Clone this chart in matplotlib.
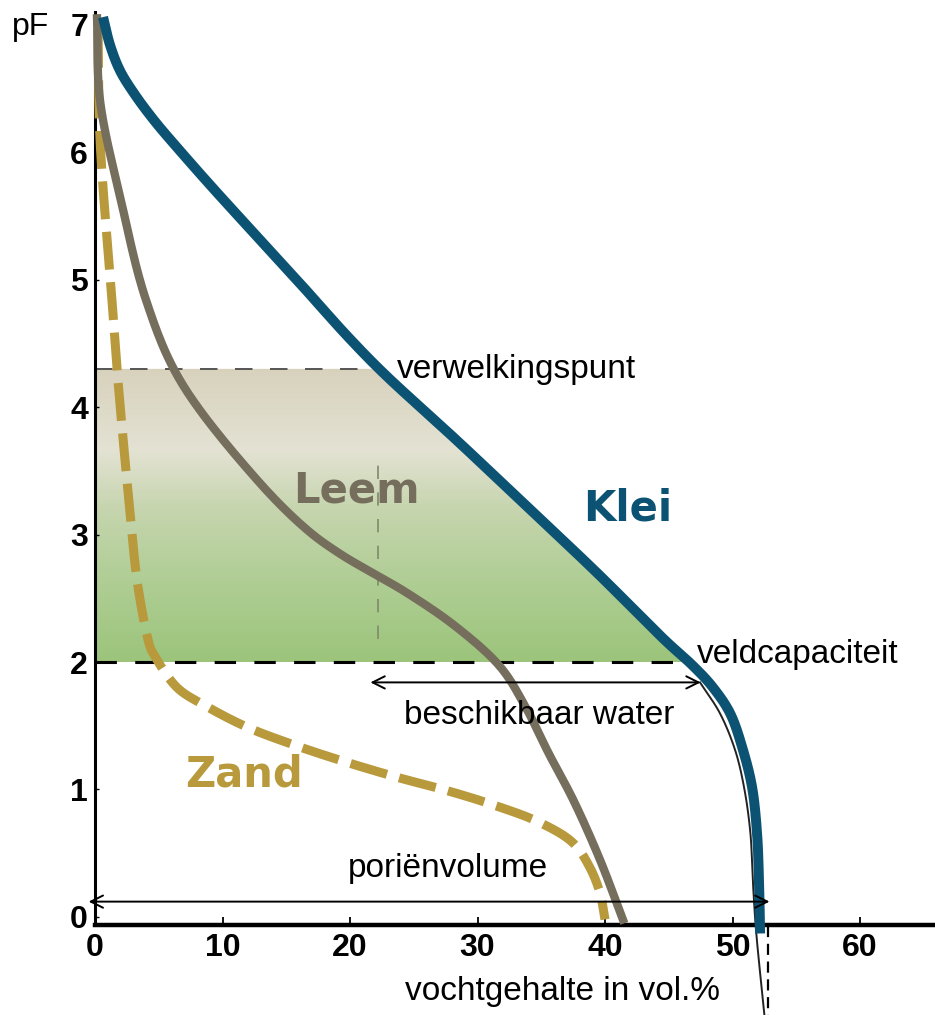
import numpy as np
import matplotlib
matplotlib.use("Agg")
import matplotlib.pyplot as plt
from matplotlib.colors import LinearSegmentedColormap
from matplotlib.patches import Polygon

# ---------------- data ----------------
klei_x = [0.63, 1.18, 1.96, 3.14, 4.71, 6.67, 9.41, 16.08, 19.76, 22.59,
          28.47, 33.88, 39.37, 44.71, 46.9, 48.39, 49.8, 50.82, 51.53,
          51.92, 52.08, 52.16]
klei_pf = [7.06, 6.84, 6.64, 6.45, 6.24, 6.01, 5.70, 4.97, 4.56, 4.27,
           3.73, 3.22, 2.70, 2.17, 1.97, 1.81, 1.60, 1.31, 1.02,
           0.66, 0.27, -0.13]

leem_x = [0.16, 0.39, 2.04, 4.0, 6.67, 12.7, 16.6, 19.2, 24.5, 28.4,
          31.8, 33.7, 35.6, 37.5, 39.6, 41.4]
leem_pf = [7.05, 6.41, 5.62, 4.84, 4.21, 3.43, 3.04, 2.85, 2.54, 2.27,
           1.96, 1.66, 1.28, 0.92, 0.45, -0.02]

zand_x = [0.24, 0.39, 1.33, 1.80, 2.75, 3.37, 4.31, 4.55, 6.43, 8.78, 11.9,
          15.3, 19.2, 23.9, 27.3, 31.2, 34.9, 37.5, 38.8, 39.6, 40.0]
zand_pf = [6.96, 6.11, 4.84, 4.21, 3.17, 2.59, 2.12, 2.07, 1.80, 1.65, 1.49,
           1.36, 1.23, 1.09, 1.0, 0.88, 0.74, 0.58, 0.39, 0.19, -0.02]

# original thin black drawing line beside the clay curve
trace_x = [47.45, 49.0, 50.2, 50.9, 51.4, 51.6, 51.84, 52.5]
trace_pf = [1.84, 1.60, 1.31, 1.02, 0.66, 0.27, -0.10, -0.77]

wilt_pf = 4.3          # verwelkingspunt
fc_pf = 2.0            # veldcapaciteit
leem_marker_x = 22.2   # thin vertical dashed line
avail_start, avail_end = 21.6, 47.5
pore_start, pore_end = -0.5, 52.9
pore_dash_x = 52.8

x_ticks = [0, 10, 20, 30, 40, 50, 60]
y_ticks = [0, 1, 2, 3, 4, 5, 6, 7]


def smooth(xs, ys, n=24):
    """Centripetal Catmull-Rom drawing path through the read points
    (in display-proportional units: 1 pF = 10 vol.%)."""
    p = np.column_stack([np.asarray(xs, float), np.asarray(ys, float) * 10])
    p = np.vstack([2 * p[0] - p[1], p, 2 * p[-1] - p[-2]])
    out = []
    for i in range(1, len(p) - 2):
        p0, p1, p2, p3 = p[i - 1], p[i], p[i + 1], p[i + 2]
        t0 = 0.0
        t1 = t0 + np.linalg.norm(p1 - p0) ** 0.5
        t2 = t1 + np.linalg.norm(p2 - p1) ** 0.5
        t3 = t2 + np.linalg.norm(p3 - p2) ** 0.5
        t = np.linspace(t1, t2, n, endpoint=False)[:, None]
        a1 = (t1 - t) / (t1 - t0) * p0 + (t - t0) / (t1 - t0) * p1
        a2 = (t2 - t) / (t2 - t1) * p1 + (t - t1) / (t2 - t1) * p2
        a3 = (t3 - t) / (t3 - t2) * p2 + (t - t2) / (t3 - t2) * p3
        b1 = (t2 - t) / (t2 - t0) * a1 + (t - t0) / (t2 - t0) * a2
        b2 = (t3 - t) / (t3 - t1) * a2 + (t - t1) / (t3 - t1) * a3
        c = (t2 - t) / (t2 - t1) * b1 + (t - t1) / (t2 - t1) * b2
        out.append(c)
    out.append(p[-2][None, :])
    out = np.vstack(out)
    return out[:, 0], out[:, 1] / 10


# ---------------- figure ----------------
KLEI = "#0c5373"
LEEM = "#766e5d"
ZAND = "#b8993c"

fig = plt.figure(figsize=(9.35, 10.15), dpi=100)
ax = fig.add_axes([95 / 935, 0.0891, 1 - 95 / 935, 0.8991])
ax.set_xlim(0, 65.88)
ax.set_ylim(-0.06, 7.1)

for s in ("top", "right"):
    ax.spines[s].set_visible(False)
ax.spines["left"].set_linewidth(2.2)
ax.spines["bottom"].set_linewidth(3.2)

ax.set_xticks(x_ticks)
ax.set_yticks(y_ticks)
ax.tick_params(axis="x", direction="in", length=6, width=1.3, pad=6)
ax.tick_params(axis="y", direction="in", length=3, width=1.0, pad=5)
for lab in ax.get_xticklabels() + ax.get_yticklabels():
    lab.set_fontfamily(["Liberation Sans", "DejaVu Sans"])
    lab.set_fontweight("bold")
    lab.set_fontsize(23)

kx, ky = smooth(klei_x, klei_pf)
lx, ly = smooth(leem_x, leem_pf)
zx, zy = smooth(zand_x, zand_pf)
tx, ty = smooth(trace_x, trace_pf)

# ---------------- gradient fill (available water) ----------------
ys = np.linspace(fc_pf, wilt_pf, 80)
order = np.argsort(ky)
xr = np.interp(ys, ky[order], kx[order])
poly_pts = [(0, fc_pf)] + list(zip(xr, ys)) + [(0, wilt_pf)]
poly = Polygon(poly_pts, closed=True, facecolor="none", edgecolor="none")
ax.add_patch(poly)
stops = [(0.0, "#9cc47b"), (0.26, "#aecd93"), (0.52, "#c6d5ae"),
         (0.72, "#e3e2d3"), (1.0, "#d8d2bd")]
cmap = LinearSegmentedColormap.from_list("aw", stops)
grad = np.linspace(0, 1, 256).reshape(-1, 1)
im = ax.imshow(grad, cmap=cmap, origin="lower", aspect="auto",
               extent=[0, max(xr) + 1, fc_pf, wilt_pf], zorder=1,
               interpolation="bilinear")
im.set_clip_path(poly)

# dashed reference lines
x_wilt = float(np.interp(wilt_pf, ky[order], kx[order]))
x_fc = float(np.interp(fc_pf, ky[order], kx[order]))
ax.plot([0, x_wilt], [wilt_pf, wilt_pf], color="#555555", lw=1.4,
        dashes=(9, 9), zorder=2)
ax.plot([0, x_fc], [fc_pf, fc_pf], color="black", lw=2.2,
        dashes=(7, 6), zorder=2)
ax.plot([leem_marker_x, leem_marker_x], [2.18, 3.6], color="#7d8a6a",
        lw=1.2, dashes=(8, 8), zorder=2)

# ---------------- curves ----------------
ax.plot(tx, ty, color="#222222", lw=1.4, zorder=3, clip_on=False)
ax.plot([pore_dash_x, pore_dash_x], [-0.07, -0.77], color="black", lw=1.6,
        dashes=(5, 3), clip_on=False, zorder=3)
ax.plot(zx, zy, color=ZAND, lw=6.5, dashes=(4.2, 1.4),
        solid_capstyle="butt", dash_capstyle="butt", zorder=4, clip_on=False)
ax.plot(lx, ly, color=LEEM, lw=6.0, solid_joinstyle="round",
        zorder=5, clip_on=False)
ax.plot(kx, ky, color=KLEI, lw=7.2, solid_joinstyle="round",
        solid_capstyle="butt", zorder=6, clip_on=False)

# ---------------- arrows ----------------
ax.annotate("", xy=(avail_end, 1.84), xytext=(avail_start, 1.84),
            arrowprops=dict(arrowstyle="<->", lw=1.4, color="black",
                            mutation_scale=22, shrinkA=0, shrinkB=0), zorder=7)
ax.annotate("", xy=(pore_end, 0.12), xytext=(pore_start, 0.12),
            arrowprops=dict(arrowstyle="<->", lw=1.4, color="black",
                            mutation_scale=22, shrinkA=0, shrinkB=0),
            annotation_clip=False, zorder=7)

# ---------------- texts ----------------
tf = ["Liberation Sans", "DejaVu Sans"]
ax.text(23.7, 4.23, "verwelkingspunt", fontsize=24, family=tf, ha="left", va="baseline", zorder=8)
ax.text(47.2, 1.99, "veldcapaciteit", fontsize=24, family=tf, ha="left", va="baseline", zorder=8)
ax.text(24.2, 1.51, "beschikbaar water", fontsize=24, family=tf, ha="left", va="baseline", zorder=8)
ax.text(19.8, 0.31, "poriënvolume", fontsize=24, family=tf, ha="left", va="baseline", zorder=8)
ax.text(24.3, -0.65, "vochtgehalte in vol.%", fontsize=24, family=tf, ha="left",
        va="baseline", clip_on=False)
ax.text(-6.5, 6.92, "pF", fontsize=23, family=tf, ha="left", va="baseline", clip_on=False)

bf = ["DejaVu Sans"]
ax.text(38.3, 3.11, "Klei", fontsize=30, fontweight="bold", family=bf, color=KLEI,
        ha="left", va="baseline", zorder=8)
ax.text(15.5, 3.25, "Leem", fontsize=30, fontweight="bold", family=bf, color=LEEM,
        ha="left", va="baseline", zorder=8)
ax.text(7.06, 1.02, "Zand", fontsize=30, fontweight="bold", family=bf, color=ZAND,
        ha="left", va="baseline", zorder=8)

fig.savefig("out.png", dpi=100)
